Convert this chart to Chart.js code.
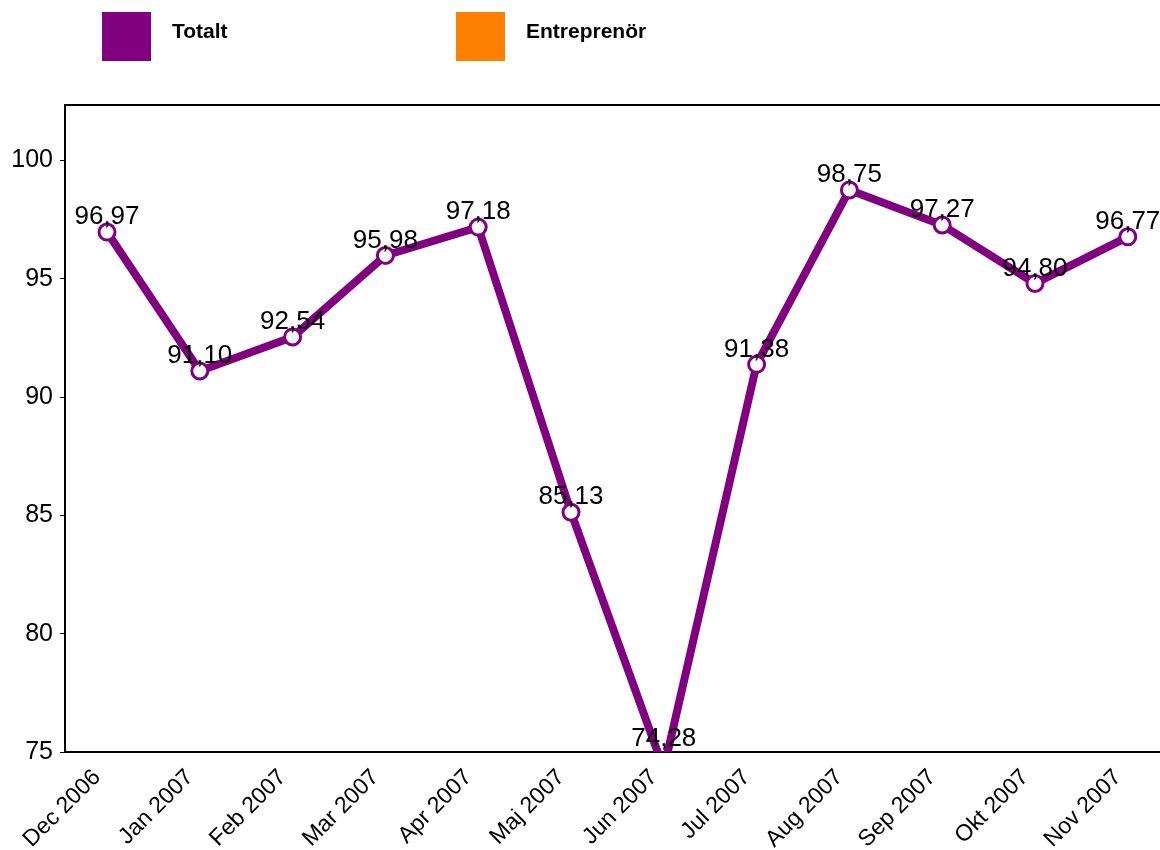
<!DOCTYPE html>
<html>
<head>
<meta charset="utf-8">
<script src="https://cdn.jsdelivr.net/npm/chart.js@4/dist/chart.umd.min.js"></script>
<style>
  body { margin: 0; background: #fff; overflow: hidden; }
  #wrap { position: relative; width: 1160px; height: 850px; }
  .leg { position: absolute; top: 12px; display: flex; align-items: flex-start; font: bold 21px "Liberation Sans", Arial, sans-serif; color: #000; }
  .leg span.box { width: 49px; height: 49px; display: inline-block; margin-right: 21px; }
  .leg span.txt { margin-top: 7px; }
</style>
</head>
<body>
<div id="wrap">
  <canvas id="lineChart"></canvas>
</div>
<script>
// Data
const months = ['Dec 2006', 'Jan 2007', 'Feb 2007', 'Mar 2007', 'Apr 2007', 'Maj 2007',
  'Jun 2007', 'Jul 2007', 'Aug 2007', 'Sep 2007', 'Okt 2007', 'Nov 2007'];
const totalt = [96.97, 91.10, 92.54, 95.98, 97.18, 85.13, 74.28, 91.38, 98.75, 97.27, 94.80, 96.77];
const entreprenor = [];
const seriesNames = ['Totalt', 'Entreprenör'];
const seriesColors = ['#800080', '#ff8000'];
const yTicks = [75, 80, 85, 90, 95, 100];

// HTML legend
const wrap = document.getElementById('wrap');
seriesNames.forEach((name, i) => {
  const d = document.createElement('div');
  d.className = 'leg';
  d.style.left = (102 + i * 354) + 'px';
  d.innerHTML = '<span class="box" style="background:' + seriesColors[i] + '"></span><span class="txt">' + name + '</span>';
  wrap.appendChild(d);
});

const FONT = '"Liberation Sans", Arial, sans-serif';

// value labels above points
const valueLabels = {
  id: 'valueLabels',
  afterDatasetsDraw(chart) {
    const ctx = chart.ctx;
    const meta = chart.getDatasetMeta(0);
    const area = chart.chartArea;
    ctx.save();
    ctx.font = '26px ' + FONT;
    ctx.fillStyle = '#000';
    ctx.textAlign = 'center';
    ctx.textBaseline = 'middle';
    meta.data.forEach((pt, i) => {
      const y = Math.min(pt.y, area.bottom + 2);
      ctx.fillText(totalt[i].toFixed(2).replace('.', ','), pt.x, y - 15);
    });
    ctx.restore();
  }
};

// top frame line
const topLine = {
  id: 'topLine',
  beforeDatasetsDraw(chart) {
    const ctx = chart.ctx;
    const a = chart.chartArea;
    ctx.save();
    ctx.strokeStyle = '#000';
    ctx.lineWidth = 2;
    ctx.beginPath();
    ctx.moveTo(a.left - 1, a.top);
    ctx.lineTo(chart.width, a.top);
    ctx.stroke();
    ctx.restore();
  }
};

new Chart(document.getElementById('lineChart'), {
  type: 'line',
  data: {
    datasets: [{
      label: seriesNames[0],
      data: totalt.map((v, i) => ({ x: i, y: v })),
      borderColor: seriesColors[0],
      borderWidth: 8,
      pointRadius: 8,
      pointBorderWidth: 3,
      pointBackgroundColor: '#fff',
      pointBorderColor: seriesColors[0],
      tension: 0,
      clip: 0
    }, {
      label: seriesNames[1],
      data: entreprenor,
      borderColor: seriesColors[1],
      borderWidth: 8
    }]
  },
  options: {
    responsive: true,
    maintainAspectRatio: false,
    animation: false,
    layout: { autoPadding: false, padding: { top: 105, right: 0, bottom: 0, left: 0 } },
    plugins: {
      legend: { display: false },
      tooltip: { enabled: false }
    },
    scales: {
      x: {
        type: 'linear',
        min: -0.4526,
        max: 11.347,
        grid: { display: false },
        border: { display: true, color: '#000', width: 2 },
        afterBuildTicks: s => { s.ticks = months.map((_, i) => ({ value: i })); },
        afterFit: s => { s.height = 98; s.paddingLeft = 0; s.paddingRight = 0; },
        ticks: {
          autoSkip: false,
          minRotation: 45,
          maxRotation: 45,
          padding: 4,
          labelOffset: -10,
          color: '#000',
          font: { family: FONT, size: 23 },
          callback: v => months[v]
        }
      },
      y: {
        min: 75,
        max: 102.34,
        grid: { drawOnChartArea: false, drawTicks: true, tickLength: 5, color: '#000', tickWidth: 1 },
        border: { display: true, color: '#000', width: 2 },
        afterBuildTicks: s => { s.ticks = yTicks.map(v => ({ value: v })); },
        afterFit: s => { s.width = 65; },
        ticks: {
          padding: 7,
          color: '#000',
          font: { family: FONT, size: 25 }
        }
      }
    }
  },
  plugins: [valueLabels, topLine]
});
</script>
</body>
</html>
